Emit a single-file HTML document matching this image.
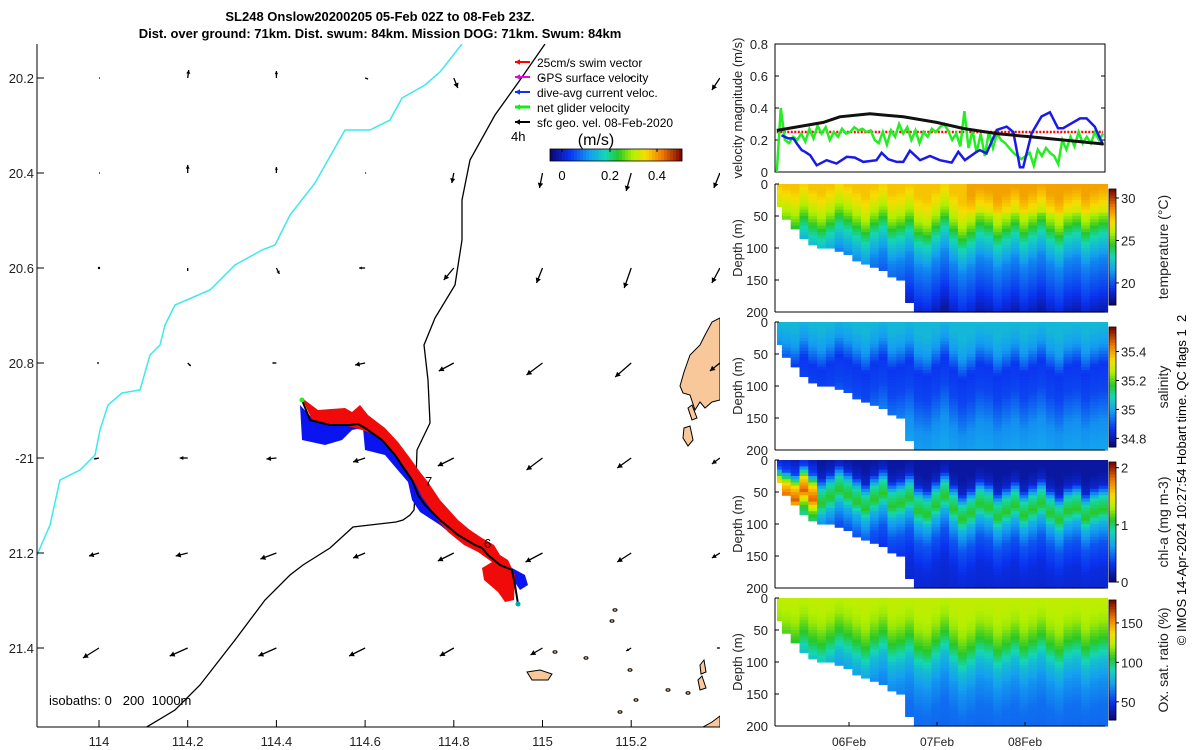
<!DOCTYPE html>
<html><head><meta charset="utf-8">
<style>
html,body{margin:0;padding:0;background:#fff;}
svg{display:block;font-family:"Liberation Sans","DejaVu Sans",sans-serif;}
</style></head>
<body>
<svg id="fig" width="1200" height="750" viewBox="0 0 1200 750" xmlns="http://www.w3.org/2000/svg">
<defs><clipPath id="mapclip"><rect x="37" y="44" width="683" height="683"/></clipPath></defs>
<g font-weight="bold" font-size="13" text-anchor="middle">
<text x="380" y="21">SL248 Onslow20200205 05-Feb 02Z to 08-Feb 23Z.</text>
<text x="380" y="38">Dist. over ground: 71km. Dist. swum: 84km. Mission DOG: 71km. Swum: 84km</text>
</g>
<g id="map"></g>
<g id="vel"></g>
<g id="heat"></g>
<text x="1186" y="480" font-size="13" text-anchor="middle" transform="rotate(-90 1186 480)" style="white-space:pre">© IMOS 14-Apr-2024 10:27:54 Hobart time. QC flags 1  2</text>
</svg>
<script>
// ---------- data ----------
const mapLonTicks=[114,114.2,114.4,114.6,114.8,115,115.2];
const mapLatTicks=[20.2,20.4,20.6,20.8,21.0,21.2,21.4];
const mapLatLabels=["20.2","20.4","20.6","20.8","-21","21.2","21.4"];
const arrowLons=[114,114.2,114.4,114.6,114.8,115,115.2,115.4];
const arrowU=[[0.01,0.01,0,0.03,0.04,0,0,-0.08],[0.01,0,0,0.01,-0.02,-0.03,-0.05,-0.06],[0,0,0.03,-0.06,-0.1,-0.06,-0.07,-0.08],[-0.02,0.03,-0.04,-0.1,-0.15,-0.16,-0.16,-0.1],[-0.05,-0.08,-0.1,-0.12,-0.16,-0.16,-0.14,-0.08],[-0.1,-0.12,-0.16,-0.12,-0.16,-0.17,-0.14,-0.08],[-0.16,-0.18,-0.18,-0.16,-0.14,-0.12,-0.05,-0.03]];
const arrowV=[[0,-0.08,-0.07,0.01,0.1,0,0,0.12],[0,-0.08,-0.06,0,0.1,0.15,0.18,0.15],[0,0.03,0.06,0,0.12,0.15,0.2,0.15],[0,0.03,0,0.02,0.08,0.12,0.14,0.08],[0.01,0,0.01,0.04,0.08,0.12,0.1,0.06],[0.03,0.03,0.06,0.05,0.08,0.09,0.09,0.05],[0.1,0.08,0.08,0.08,0.08,0.07,0.03,0]];
// velocity panel
const velTicks=[0,0.2,0.4,0.6,0.8];
const greenStart=4.3, greenEnd=93.3;
const greenVals=[0.0,0.4,0.2,0.18,0.22,0.2,0.24,0.19,0.27,0.21,0.29,0.24,0.28,0.2,0.25,0.22,0.27,0.24,0.25,0.28,0.26,0.27,0.25,0.26,0.2,0.18,0.25,0.17,0.26,0.22,0.3,0.24,0.28,0.2,0.26,0.18,0.25,0.22,0.27,0.25,0.28,0.3,0.26,0.2,0.24,0.16,0.38,0.15,0.26,0.12,0.24,0.1,0.25,0.15,0.24,0.2,0.18,0.15,0.12,0.1,0.08,0.1,0.12,0.04,0.14,0.1,0.15,0.12,0.1,0.05,0.2,0.14,0.22,0.16,0.25,0.18,0.22,0.18,0.25,0.2,0.24];
const blueHours=[5.6,7.4,8.8,10,11.1,12,13.4,15.2,17.9,20.6,23.4,25.6,27.9,31.5,32.9,34.7,37,38.8,40.6,43.4,46.1,48.8,52,53.8,55.6,58.8,59.7,61.5,64.3,67,68.8,70.6,71.5,73.8,76.5,78.8,81,82.4,87,88.8,91,93.3];
const blueVals=[0.23,0.21,0.21,0.17,0.137,0.126,0.105,0.042,0.074,0.053,0.095,0.09,0.063,0.074,0.12,0.08,0.063,0.063,0.133,0.074,0.1,0.074,0.059,0.126,0.074,0.126,0.137,0.116,0.263,0.284,0.25,0.03,0.03,0.242,0.347,0.373,0.274,0.274,0.335,0.335,0.284,0.168];
const blackHours=[4.3,17,21.5,29.7,38.8,47.9,55.2,64.3,73.4,82.4,93.4];
const blackVals=[0.26,0.31,0.345,0.364,0.345,0.31,0.272,0.24,0.22,0.2,0.175];
const swimVal=0.25;
const dayTicks=[24,48,72], dayLabels=["06Feb","07Feb","08Feb"];
// sections
const colHours=[4.5,6.9,9.3,11.7,14.1,16.5,18.9,21.3,23.7,26.1,28.5,30.9,33.3,35.7,38.1,40.5,42.9,45.3,47.7,50.1,52.5,54.9,57.3,59.7,62.1,64.5,66.9,69.3,71.7,74.1,76.5,78.9,81.3,83.7,86.1,88.5,90.9,93.3];
const bottomDepth=[35,55,70,85,92,97,100,105,110,117,122,128,135,142,150,185,200,200,200,200,200,200,200,200,200,200,200,200,200,200,200,200,200,200,200,200,200,200];
const isoOffset=[0,5,10,-5,8,15,5,-8,0,10,20,5,-5,15,10,0,20,25,10,-5,15,30,20,5,10,25,15,5,20,10,0,15,25,10,5,20,10,5];
const tempDepths=[0,20,45,75,110,160,200], tempVals=[27.8,27,25.5,23,21,19.5,18];
const salDepths=[0,30,60,100,150,200], salVals=[35.03,34.98,34.86,34.88,34.97,35.0];
const chlDepths=[0,20,40,60,80,110,150,200], chlVals=[0.1,0.2,0.9,1.1,0.7,0.4,0.25,0.2];
const oxDepths=[0,30,60,90,120,160,200], oxVals=[125,120,105,82,70,62,60];
const depthTicks=[0,50,100,150,200];

// ---------- helpers ----------
const NS="http://www.w3.org/2000/svg";
function el(tag,attrs,parent){const e=document.createElementNS(NS,tag);for(const k in attrs)e.setAttribute(k,attrs[k]);parent.appendChild(e);return e;}
function txt(s,attrs,parent){const e=el('text',attrs,parent);e.textContent=s;return e;}
const stops=[[0,[10,10,120]],[0.14,[10,50,240]],[0.3,[20,160,240]],[0.42,[20,215,180]],[0.52,[40,200,40]],[0.63,[180,240,0]],[0.73,[248,220,0]],[0.86,[240,120,0]],[1,[130,10,0]]];
function cmap(f){f=Math.max(0,Math.min(1,f));for(let i=1;i<stops.length;i++){if(f<=stops[i][0]){const a=stops[i-1],b=stops[i],t=(f-a[0])/(b[0]-a[0]);const c=a[1].map((v,j)=>Math.round(v+(b[1][j]-v)*t));return `rgb(${c[0]},${c[1]},${c[2]})`;}}return 'rgb(130,10,0)';}
function interp(xs,ys,x){if(x<=xs[0])return ys[0];for(let i=1;i<xs.length;i++)if(x<=xs[i])return ys[i-1]+(ys[i]-ys[i-1])*(x-xs[i-1])/(xs[i]-xs[i-1]);return ys[ys.length-1];}

// ---------- map ----------
const map=document.getElementById('map');
const lonX=l=>99+(l-114)*443.5, latY=l=>78+(l-20.2)*475;
const mg=el('g',{'clip-path':'url(#mapclip)'},map);
[[ "720,318 712,322 705,335 700,345 690,355 684,372 680,386 683,393 690,395 695,410 700,402 705,408 712,402 720,400"],["684,428 690,426 693,440 688,446 683,438"],["688,408 692,405 697,418 692,420"],["720,716 712,722 703,727 720,727"],["527,672 540,670 552,674 548,680 532,680"],["700,665 704,660 706,672 701,674"],["698,680 702,676 706,688 700,690"]].forEach((p,i)=>{
 const e=el('polygon',{points:p[0],fill:'#f8c89a',stroke:'#000','stroke-width':1},mg);
 
 
});
[[615,610],[612,621],[555,652],[586,658],[630,670],[668,690],[688,693],[636,700],[620,712]].forEach((p,i)=>{
 const e=el('ellipse',{cx:p[0],cy:p[1],rx:2,ry:1.2,fill:'#f8c89a',stroke:'#000','stroke-width':1},mg);
 
 
});
let e1=el('polyline',{points:"462,44 440,72 425,85 402,98 390,120 370,130 345,130 315,183 290,215 275,245 262,250 235,265 210,290 175,305 165,325 160,345 150,355 140,390 122,393 108,405 100,430 95,455 80,470 60,480 50,525 37,555",fill:'none',stroke:'#3ee8ee','stroke-width':1.5},mg);


let e2=el('polyline',{points:"545,44 520,80 495,115 470,160 462,200 462,240 455,285 435,318 424,345 428,380 430,423 417,450 416,480 414,510 410,515 403,520 396,522 370,525 353,527 330,548 303,565 290,575 265,600 235,640 200,685 175,710 145,728",fill:'none',stroke:'#000','stroke-width':1.3},mg);


let bl=el('polygon',{points:"300,405 302,440 325,445 342,440 352,430 363,428 365,450 385,455 396,468 408,482 412,500 420,512 440,525 456,538 472,548 485,556 500,568 512,578 520,590 528,585 525,575 512,568 498,556 482,548 466,540 450,528 436,512 425,497 418,483 410,468 400,452 388,438 375,428 358,424 348,425 330,425 312,418",fill:'#0a14f0'},mg);


let rd=el('polygon',{points:"302,398 318,410 345,408 352,412 360,405 368,415 385,428 398,442 410,458 420,472 428,482 440,500 458,520 470,530 482,538 494,545 500,555 508,560 515,575 514,600 505,602 498,592 484,580 482,568 492,562 478,552 464,545 448,532 438,520 430,508 422,497 416,485 408,472 398,458 386,445 375,435 362,430 348,426 330,424 312,420",fill:'#f00a0a'},mg);


let tr=el('polyline',{points:"302,400 310,420 330,425 350,425 358,424 365,428 382,440 395,455 405,470 412,480 418,495 425,505 440,520 458,535 475,545 482,548 488,555 500,565 512,570 515,585 518,604",fill:'none',stroke:'#000','stroke-width':2},mg);


el('circle',{cx:302,cy:400,r:2.5,fill:'#2e2'},mg);
el('circle',{cx:518,cy:604,r:2.5,fill:'#0aa'},mg);
txt('7',{x:425,y:486,'font-size':13},mg);
txt('6',{x:484,y:548,'font-size':13},mg);
const ARW=100;
function arrow(x,y,dx,dy,col,parent,sw){
 const g=el('g',{},parent);
 const L=Math.hypot(dx,dy);
 el('line',{x1:x,y1:y,x2:x+dx,y2:y+dy,stroke:col,'stroke-width':sw||1.3},g);
 if(L>0.5){const ux=dx/L,uy=dy/L,h=Math.min(5,L*0.45),w=h*0.55;
  el('polygon',{points:`${x+dx},${y+dy} ${x+dx-ux*h+uy*w},${y+dy-uy*h-ux*w} ${x+dx-ux*h-uy*w},${y+dy-uy*h+ux*w}`,fill:col},g);}
 else el('circle',{cx:x,cy:y,r:1.2,fill:col},g);
 return g;
}
mapLatTicks.forEach((lat,r)=>arrowLons.forEach((lon,c)=>{
 const g=arrow(lonX(lon),latY(lat),arrowU[r][c]*ARW,arrowV[r][c]*ARW,'#000',mg,1.3);
 
 
}));
el('line',{x1:37,y1:44,x2:37,y2:727,stroke:'#000','stroke-width':1},map);
el('line',{x1:37,y1:727,x2:720,y2:727,stroke:'#000','stroke-width':1},map);
mapLonTicks.forEach(l=>{const x=lonX(l);el('line',{x1:x,y1:727,x2:x,y2:720,stroke:'#000'},map);
 const t=txt(String(l),{x:x,y:746,'font-size':13,'text-anchor':'middle',fill:'#222'},map);
 
 });
mapLatTicks.forEach((l,i)=>{const y=latY(l);el('line',{x1:37,y1:y,x2:44,y2:y,stroke:'#000'},map);
 const t=txt(mapLatLabels[i],{x:34,y:y+5,'font-size':13,'text-anchor':'end',fill:'#222'},map);
 
 });
const iso=txt('isobaths: 0   200  1000m',{x:49,y:705,'font-size':13,style:'white-space:pre'},map);


const leg=el('g',{},map);


[['#f00','25cm/s swim vector'],['#e0e','GPS surface velocity'],['#1030f0','dive-avg current veloc.'],['#1e1','net glider velocity'],['#000','sfc geo. vel. 08-Feb-2020']].forEach((d,i)=>{
 const y=62+i*15;
 const g=arrow(530,y,-15,0,d[0],leg,i==3?3:2);
 
 
 txt(d[1],{x:537,y:y+5,'font-size':12},leg);
});
txt('4h',{x:511,y:141,'font-size':13},leg);
txt('(m/s)',{x:596,y:145,'font-size':16,'text-anchor':'middle'},leg);
for(let i=0;i<44;i++)el('rect',{x:550+i*3,y:149,width:3.2,height:12,fill:cmap(i/43)},leg);
el('rect',{x:550,y:149,width:132,height:12,fill:'none',stroke:'#000','stroke-width':0.8},leg);
[[0,562],[0.2,610],[0.4,657]].forEach(t=>{el('line',{x1:t[1],y1:149,x2:t[1],y2:152,stroke:'#000'},leg);txt(String(t[0]),{x:t[1],y:180,'font-size':13,'text-anchor':'middle'},leg);});

// ---------- velocity panel ----------
const vel=document.getElementById('vel');
const hX=h=>761+h/24*88;
const vx0=775,vx1=1105,vy0=44,vy1=172;
const vY=v=>vy1-v/0.8*(vy1-vy0);
el('rect',{x:vx0,y:vy0,width:vx1-vx0,height:vy1-vy0,fill:'#fff',stroke:'#000','stroke-width':1},vel);
velTicks.forEach(v=>{const y=vY(v);el('line',{x1:vx0,y1:y,x2:vx0+4,y2:y,stroke:'#000'},vel);el('line',{x1:vx1,y1:y,x2:vx1-4,y2:y,stroke:'#000'},vel);
 txt(String(v),{x:768,y:y+5,'font-size':13,'text-anchor':'end',fill:'#222'},vel);});
txt('velocity magnitude (m/s)',{x:742,y:108,'font-size':13,'text-anchor':'middle',transform:'rotate(-90 742 108)',fill:'#222'},vel);
let sw=el('line',{x1:hX(greenStart),y1:vY(swimVal),x2:hX(greenEnd),y2:vY(swimVal),stroke:'#f00','stroke-width':2.5,'stroke-dasharray':'2 1.5'},vel);


let gp=greenVals.map((v,i)=>`${hX(greenStart+i*(greenEnd-greenStart)/(greenVals.length-1)).toFixed(1)},${vY(v).toFixed(1)}`).join(' ');
let gl=el('polyline',{points:gp,fill:'none',stroke:'#22ee22','stroke-width':2.5},vel);


let bp=blueVals.map((v,i)=>`${hX(blueHours[i]).toFixed(1)},${vY(v).toFixed(1)}`).join(' ');
let bll=el('polyline',{points:bp,fill:'none',stroke:'#1a1ae8','stroke-width':2.5},vel);


let kp=blackVals.map((v,i)=>`${hX(blackHours[i]).toFixed(1)},${vY(v).toFixed(1)}`).join(' ');
let kl=el('polyline',{points:kp,fill:'none',stroke:'#111','stroke-width':3},vel);



// ---------- sections ----------
const heat=document.getElementById('heat');
const panels=[
 {name:'temperature',y0:184,label:'temperature (°C)',cb:[189,305],rng:[17.4,31.06],ticks:[20,25,30],fn:(z,h,o)=>interp(tempDepths,tempVals,Math.max(0,z-o))+(h>55&&z<45?0.6:0)},
 {name:'salinity',y0:322,label:'salinity',cb:[327,447],rng:[34.74,35.57],ticks:[34.8,35,35.2,35.4],fn:(z,h,o)=>interp(salDepths,salVals,Math.max(0,z-o))},
 {name:'chl-a',y0:460,label:'chl-a (mg m-3)',cb:[462,582],rng:[0,2.1],ticks:[0,1,2],fn:(z,h,o)=>interp(chlDepths,chlVals,Math.max(0,z-o-h*0.25+10))*(h<15?1.7:1)},
 {name:'oxygen',y0:598,label:'Ox. sat. ratio (%)',cb:[600,720],rng:[27,179],ticks:[50,100,150],fn:(z,h,o)=>interp(oxDepths,oxVals,Math.max(0,z-o))}
];
const PH=128, dz=5;
const cw=2.4/24*88;
panels.forEach(p=>{
 const g=el('g',{},heat);
 
 
 const dY=d=>p.y0+d/200*PH;
 colHours.forEach((h,i)=>{
  const x=hX(h)-cw/2;
  for(let z=0;z<bottomDepth[i];z+=dz){
   const v=p.fn(z+dz/2,h,isoOffset[i]);
   el('rect',{x:Math.max(777,x).toFixed(1),y:dY(z).toFixed(1),width:(cw+0.6).toFixed(1),height:(PH*dz/200+0.6).toFixed(1),fill:cmap((v-p.rng[0])/(p.rng[1]-p.rng[0]))},g);
  }
 });
 el('line',{x1:775,y1:p.y0,x2:775,y2:p.y0+PH,stroke:'#000'},g);
 el('line',{x1:775,y1:p.y0+PH,x2:1105,y2:p.y0+PH,stroke:'#000'},g);
 depthTicks.forEach(d=>{el('line',{x1:775,y1:dY(d),x2:779,y2:dY(d),stroke:'#000'},g);
  txt(String(d),{x:768,y:dY(d)+5,'font-size':13,'text-anchor':'end',fill:'#222'},g);});
 txt('Depth (m)',{x:742,y:p.y0+64,'font-size':13,'text-anchor':'middle',transform:`rotate(-90 742 ${p.y0+64})`,fill:'#222'},g);
 const cbg=el('g',{},g);
 
 
 const [c0,c1]=p.cb;
 for(let i=0;i<40;i++)el('rect',{x:1109,y:c1-(i+1)*(c1-c0)/40,width:7,height:(c1-c0)/40+0.5,fill:cmap(i/39)},cbg);
 el('rect',{x:1109,y:c0,width:7,height:c1-c0,fill:'none',stroke:'#000','stroke-width':0.8},cbg);
 p.ticks.forEach(t=>{const y=c1-(t-p.rng[0])/(p.rng[1]-p.rng[0])*(c1-c0);
  el('line',{x1:1116,y1:y,x2:1119,y2:y,stroke:'#000'},cbg);
  txt(String(t),{x:1121,y:y+5,'font-size':13,fill:'#222'},cbg);});
 const cy=(c0+c1)/2;
 txt(p.label,{x:1168,y:cy,'font-size':14,'text-anchor':'middle',transform:`rotate(-90 1168 ${cy})`,fill:'#222'},cbg);
});
dayTicks.forEach((h,i)=>{const x=hX(h);el('line',{x1:x,y1:726,x2:x,y2:722,stroke:'#000'},heat);
 const t=txt(dayLabels[i],{x:x,y:746,'font-size':12,'text-anchor':'middle',fill:'#222'},heat);
 
 });
</script>
</body></html>
